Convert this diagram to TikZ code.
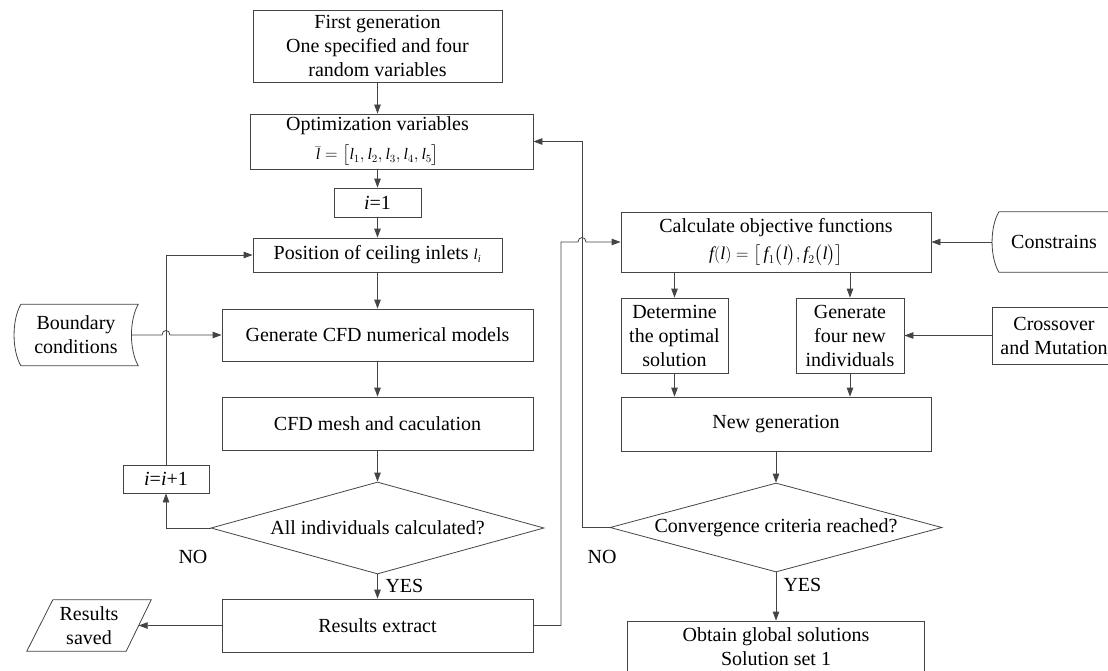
\documentclass[tikz,border=0pt]{standalone}
\usepackage{amsmath}
\usepackage{fontspec}
\setmainfont{Liberation Serif}
\usetikzlibrary{arrows.meta, shapes.geometric, calc}
\definecolor{LineGray}{RGB}{68,68,68}
\newcommand{\il}{\text{\itshape l}}
\newcommand{\itf}{\text{\itshape f}}

\begin{document}
\begin{tikzpicture}[x=1pt, y=-1pt, font=\fontsize{20}{24}\selectfont,
    box/.style={draw=LineGray, line width=0.8pt, rectangle, align=center, inner sep=1pt},
    flow/.style={draw=LineGray, line width=0.8pt},
    arr/.style={flow, -{Triangle[length=9pt, width=6.5pt]}},
    decision/.style={draw=LineGray, line width=0.8pt, diamond, aspect=3.7, inner sep=0pt, align=center}]
    \useasboundingbox (0,0) rectangle (1108,671);

    % --- 左列：CFD 计算循环 ---
    \node[box, minimum width=249pt, minimum height=72pt] (first) at (377.5,46) {First generation\\One specified and four\\random variables};
    \node[box, minimum width=283pt, minimum height=55pt] (opt) at (391.5,141.5) {};
    \node[align=center] (optlbl) at (377.5,141.5) {Optimization variables\\[5pt]{\fontsize{16}{18}\selectfont $\bar{\il}=\big[\il_1,\il_2,\il_3,\il_4,\il_5\big]$}};
    \node[box, minimum width=87pt, minimum height=29pt] (i1) at (377.5,202.5) {\textit{i}=1};
    \node[box, minimum width=249pt, minimum height=34pt] (pos) at (377.5,255) {Position of ceiling inlets {\fontsize{15}{15}\selectfont\itshape l\textsubscript{i}}};
    \node[box, minimum width=311pt, minimum height=52pt] (gen) at (377.5,335) {Generate CFD numerical models};
    \node[box, minimum width=311pt, minimum height=53pt] (mesh) at (377.5,423.5) {CFD mesh and caculation};
    \node[decision, minimum width=333pt, minimum height=92pt] (allind) at (377.5,528) {All individuals calculated?};
    \node[box, minimum width=311pt, minimum height=53pt] (ext) at (377.5,625.5) {Results extract};
    \node[box, minimum width=86pt, minimum height=28pt] (inc) at (166,479) {\textit{i}=\textit{i}+1};
    \node (no1) at (193,557) {NO};
    \node[anchor=west] (yes1) at (382,586) {YES};

    % 边界条件与结果保存
    \node[minimum width=124pt, minimum height=61pt, align=center, inner sep=0pt] (bc) at (76,335) {Boundary\\conditions};
    \draw[flow] ($(bc.north west)+(7,0)$) -- (bc.north east)
        .. controls ($(bc.north east)+(-9,16)$) and ($(bc.south east)+(-9,-16)$) .. (bc.south east)
        -- ($(bc.south west)+(7,0)$)
        .. controls ($(bc.south west)+(-2,-16)$) and ($(bc.north west)+(-2,16)$) .. ($(bc.north west)+(7,0)$);
    \node[minimum width=124pt, minimum height=51pt, align=center, inner sep=0pt] (saved) at (89,625.5) {Results\\saved};
    \draw[flow] ($(saved.north west)+(26,0)$) -- (saved.north east) -- ($(saved.south east)+(-25,0)$) -- (saved.south west) -- cycle;

    % --- 右列：优化过程 ---
    \node[box, minimum width=310pt, minimum height=60pt] (calc) at (776,242) {Calculate objective functions\\[3pt]{\fontsize{18}{20}\selectfont $\itf(\il)=\big[\,\itf_1\bigl(\il\bigr),\itf_2\bigl(\il\bigr)\big]$}};
    \node[box, minimum width=107pt, minimum height=75pt] (det) at (674.5,335.5) {Determine\\the optimal\\solution};
    \node[box, minimum width=108pt, minimum height=75pt] (gfour) at (850,335.5) {Generate\\four new\\individuals};
    \node[box, minimum width=310pt, minimum height=54pt] (newg) at (776,424) {New generation};
    \node[decision, minimum width=332pt, minimum height=89pt] (conv) at (776,527.5) {Convergence criteria reached?};
    \node[box, minimum width=297pt, minimum height=52pt] (obtain) at (776,647) {Obtain global solutions\\Solution set 1};
    \node (no2) at (602,557) {NO};
    \node[anchor=west] (yes2) at (780,585) {YES};

    \node[minimum width=124pt, minimum height=60pt, align=center, inner sep=0pt] (cons) at (1054,242) {Constrains};
    \draw[flow] ($(cons.north west)+(7,0)$) -- (cons.north east)
        .. controls ($(cons.north east)+(-9,16)$) and ($(cons.south east)+(-9,-16)$) .. (cons.south east)
        -- ($(cons.south west)+(7,0)$)
        .. controls ($(cons.south west)+(-2,-16)$) and ($(cons.north west)+(-2,16)$) .. ($(cons.north west)+(7,0)$);
    \node[box, minimum width=124pt, minimum height=57pt] (cross) at (1054,335.5) {Crossover\\and Mutation};

    % --- 连线 ---
    \draw[arr] (first.south) -- (first.south |- opt.north);
    \draw[arr] (i1.north |- opt.south) -- (i1.north);
    \draw[arr] (i1.south) -- (pos.north);
    \draw[arr] (pos.south) -- (gen.north);
    \draw[arr] (gen.south) -- (mesh.north);
    \draw[arr] (mesh.south) -- (allind.north);
    \draw[arr] (allind.south) -- (ext.north);
    \draw[arr] (allind.west) -| (inc.south);
    \draw[arr] (inc.north) |- (pos.west);
    \draw[arr] ($(bc.east)+(-6.75,0)$) -- (162,335) .. controls (162,329) and (170,329) .. (170,335) -- (gen.west);
    \draw[arr] (ext.west) -- ($(saved.east)+(-12.5,0)$);

    \draw[arr] (ext.east) -- (561,625.5) -- (561,242) -- (578,242) .. controls (578,236) and (586,236) .. (586,242) -- (calc.west);
    \draw[arr] (conv.west) -- (582,527.5) |- (opt.east);
    \draw[arr] (det.north |- calc.south) -- (det.north);
    \draw[arr] (gfour.north |- calc.south) -- (gfour.north);
    \draw[arr] (det.south) -- (det.south |- newg.north);
    \draw[arr] (gfour.south) -- (gfour.south |- newg.north);
    \draw[arr] (cons.west) -- (calc.east);
    \draw[arr] (cross.west) -- (gfour.east);
    \draw[arr] (newg.south) -- (conv.north);
    \draw[arr] (conv.south) -- (obtain.north);
\end{tikzpicture}
\end{document}
